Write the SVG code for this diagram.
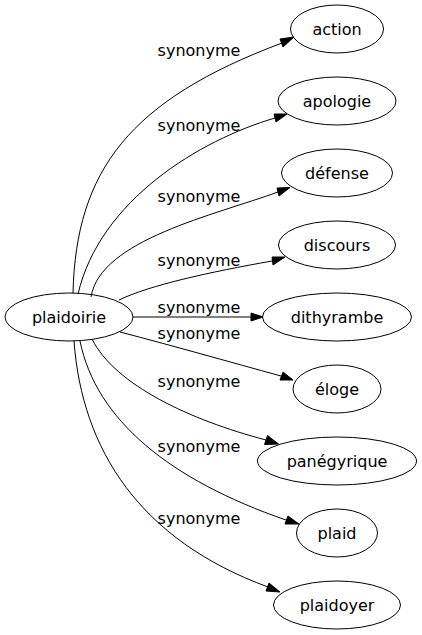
<svg xmlns="http://www.w3.org/2000/svg" width="422" height="635" viewBox="0 0 422 635">
<defs>
<style>
.node ellipse{fill:none;stroke:#000;stroke-width:1}
.node text{font-family:"DejaVu Sans",sans-serif;font-size:16px;text-anchor:middle;fill:#000}
.edges path{fill:none;stroke:#000;stroke-width:1}
.edges polygon{fill:#000;stroke:#000;stroke-width:1}
.edges text{font-family:"DejaVu Sans",sans-serif;font-size:16px;text-anchor:middle;fill:#000}
</style>
</defs>
<rect width="422" height="635" fill="#fff"/>
<g id="edges" class="edges">
<path d="M73,293 C76,170 130,100 282,43"/>
<polygon points="294,37 283,47 280,39"/>
<text x="199" y="56">synonyme</text>
<path d="M78,294 C100,200 200,140 275,118"/>
<polygon points="287,114 276,122 274,114"/>
<text x="199" y="131">synonyme</text>
<path d="M91,297 C100,240 215,215 278,192"/>
<polygon points="290,187.5 279,196 277,188"/>
<text x="199" y="202">synonyme</text>
<path d="M119,300 C150,285 210,272 272,261"/>
<polygon points="285,257 273,265 272,257"/>
<text x="199" y="265.5">synonyme</text>
<path d="M133,317 L252,317"/>
<polygon points="263,317 251,321 251,313"/>
<text x="199" y="312.5">synonyme</text>
<path d="M120,332 C170,345 230,362 281,376"/>
<polygon points="293,380 280,380 283,372"/>
<text x="199" y="338.5">synonyme</text>
<path d="M92,339 C115,385 190,420 266,440"/>
<polygon points="278.5,444 264.5,444.5 267.5,435.5"/>
<text x="199" y="387">synonyme</text>
<path d="M80,341 C96,420 170,480 286,520"/>
<polygon points="299,524 285,524 288,516"/>
<text x="199" y="451.5">synonyme</text>
<path d="M74,341 C82,450 140,540 268,587"/>
<polygon points="280,592 266,591 269,583"/>
<text x="199" y="523.5">synonyme</text>
</g>
<g id="plaidoirie" class="node"><ellipse cx="69" cy="317" rx="64" ry="24"/><text x="69" y="322.5">plaidoirie</text></g>
<g id="action" class="node"><ellipse cx="337" cy="29" rx="46.5" ry="24"/><text x="337" y="34.5">action</text></g>
<g id="apologie" class="node"><ellipse cx="337" cy="101" rx="59" ry="24"/><text x="337" y="106.5">apologie</text></g>
<g id="defense" class="node"><ellipse cx="337" cy="173" rx="55.5" ry="24"/><text x="337" y="178.5">défense</text></g>
<g id="discours" class="node"><ellipse cx="337" cy="245" rx="58.5" ry="24"/><text x="337" y="250.5">discours</text></g>
<g id="dithyrambe" class="node"><ellipse cx="337" cy="317" rx="74.5" ry="24"/><text x="337" y="322.5">dithyrambe</text></g>
<g id="eloge" class="node"><ellipse cx="337" cy="389" rx="44" ry="24"/><text x="337" y="394.5">éloge</text></g>
<g id="panegyrique" class="node"><ellipse cx="337" cy="461" rx="79.5" ry="24"/><text x="337" y="466.5">panégyrique</text></g>
<g id="plaid" class="node"><ellipse cx="337" cy="533" rx="40.5" ry="24"/><text x="337" y="538.5">plaid</text></g>
<g id="plaidoyer" class="node"><ellipse cx="337" cy="605" rx="63.5" ry="24"/><text x="337" y="610.5">plaidoyer</text></g>
</svg>
